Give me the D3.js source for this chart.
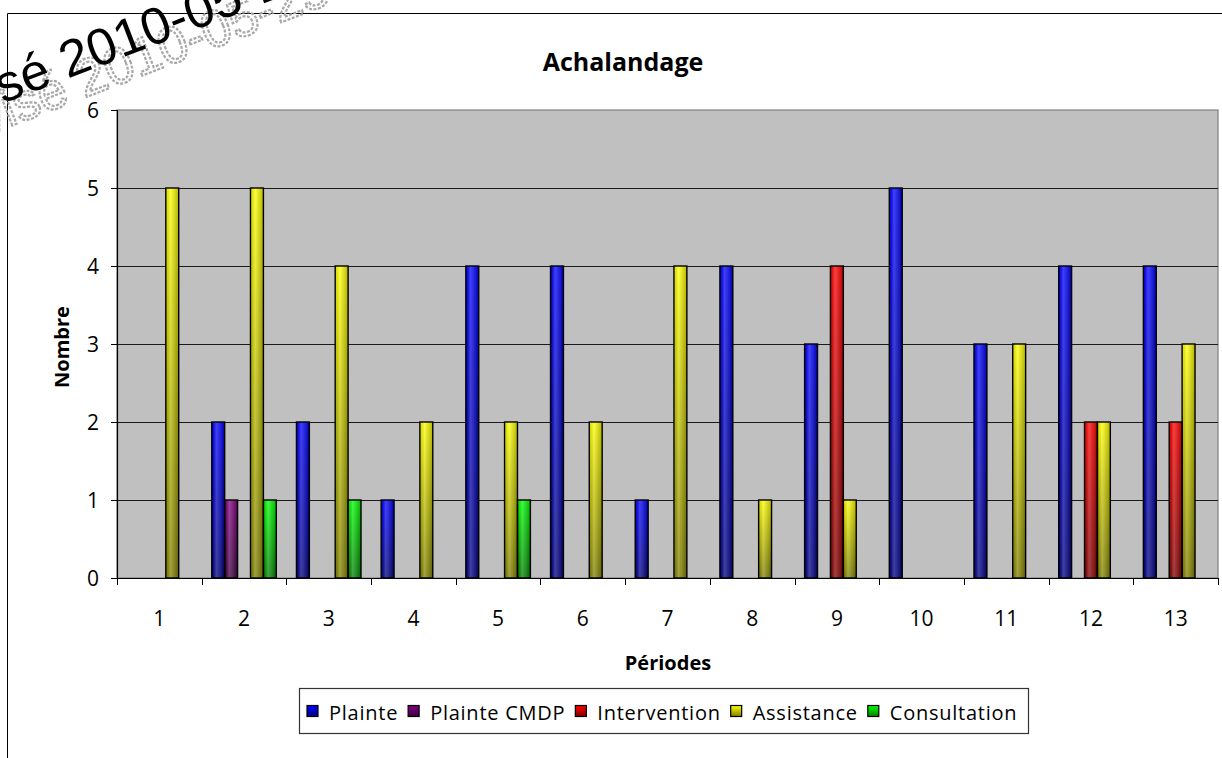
<!DOCTYPE html>
<html><head><meta charset="utf-8">
<script src="https://cdn.jsdelivr.net/npm/d3@7"></script>
<style>body{margin:0;background:#fff}svg{display:block}</style>
</head><body>
<svg id="c" width="1222" height="758"></svg>
<script>
// ---- data ----
const categories = ["1","2","3","4","5","6","7","8","9","10","11","12","13"];
const seriesNames = ["Plainte","Plainte CMDP","Intervention","Assistance","Consultation"];
const plainte      = [0,2,2,1,4,4,1,4,3,5,3,4,4];
const plainteCMDP  = [0,1,0,0,0,0,0,0,0,0,0,0,0];
const intervention = [0,0,0,0,0,0,0,0,4,0,0,2,2];
const assistance   = [5,5,4,2,2,2,4,1,1,0,3,2,3];
const consultation = [0,1,1,0,1,0,0,0,0,0,0,0,0];
const yTicks = [0,1,2,3,4,5,6];
const topColors    = ["#0000ff","#800080","#ff0000","#ffff00","#00ff00"];
const bottomColors = ["#000080","#400040","#800000","#808000","#008000"];
const seriesValues = [plainte, plainteCMDP, intervention, assistance, consultation];

const FONT = "'Open Sans', sans-serif";
const WMFONT = "'Liberation Sans', Arial, sans-serif";
const svg = d3.select("#c");
const defs = svg.append("defs");

seriesNames.forEach((s,i)=>{
  const g = defs.append("linearGradient").attr("id","g"+i)
    .attr("x1",0).attr("y1",0).attr("x2",0).attr("y2",1);
  g.append("stop").attr("offset","0%").attr("stop-color",topColors[i]);
  g.append("stop").attr("offset","100%").attr("stop-color",bottomColors[i]);
});
const hl = defs.append("linearGradient").attr("id","hl").attr("x1",0).attr("y1",0).attr("x2",1).attr("y2",0);
hl.append("stop").attr("offset","0%").attr("stop-color","#000").attr("stop-opacity",0.12);
hl.append("stop").attr("offset","35%").attr("stop-color","#fff").attr("stop-opacity",0.25);
hl.append("stop").attr("offset","100%").attr("stop-color","#000").attr("stop-opacity",0.28);

// ---- outer chart border ----
svg.append("line").attr("x1",7.5).attr("x2",1222).attr("y1",13.5).attr("y2",13.5).attr("stroke","#000");
svg.append("line").attr("x1",7.5).attr("x2",7.5).attr("y1",13.5).attr("y2",758).attr("stroke","#000");

// ---- scales ----
const pL=117, pR=1218, pT=110, pB=578;
const x0 = d3.scaleBand().domain(categories).range([pL,pR]);
const x1 = d3.scaleBand().domain(seriesNames).range([0,x0.bandwidth()]).paddingInner(0).paddingOuter(0.78);
const y = d3.scaleLinear().domain([0,6]).range([pB,pT]);

// plot area
svg.append("rect").attr("x",pL).attr("y",pT).attr("width",pR-pL).attr("height",pB-pT)
  .attr("fill","#c0c0c0").attr("stroke","#808080").attr("stroke-width",1.2);
// gridlines
svg.append("g").selectAll("line").data(yTicks.filter(v=>v>0&&v<6)).join("line")
  .attr("x1",pL).attr("x2",pR).attr("y1",d=>Math.round(y(d))+0.5).attr("y2",d=>Math.round(y(d))+0.5)
  .attr("stroke","#1a1a1a").attr("stroke-width",1);

// bars
const rows = [];
categories.forEach((c,ci)=>seriesNames.forEach((s,si)=>{
  if (seriesValues[si][ci]>0) rows.push({c, s, si, v: seriesValues[si][ci]});
}));
const bars = svg.append("g");
bars.selectAll("rect.b").data(rows).join("rect").attr("class","b")
  .attr("x",d=>x0(d.c)+x1(d.s)).attr("y",d=>y(d.v))
  .attr("width",x1.bandwidth()).attr("height",d=>y(0)-y(d.v))
  .attr("fill",d=>"url(#g"+d.si+")");
bars.selectAll("rect.h").data(rows).join("rect").attr("class","h")
  .attr("x",d=>x0(d.c)+x1(d.s)).attr("y",d=>y(d.v))
  .attr("width",x1.bandwidth()).attr("height",d=>y(0)-y(d.v))
  .attr("fill","url(#hl)").attr("stroke","#000").attr("stroke-width",1.4);

// axes
const yAxis = svg.append("g").attr("transform",`translate(${pL},0)`)
  .call(d3.axisLeft(y).tickValues(yTicks).tickSize(6).tickPadding(12).tickFormat(d3.format("d")));
const xAxis = svg.append("g").attr("transform",`translate(0,${pB})`)
  .call(d3.axisBottom(x0).tickSize(0).tickPadding(33));
[yAxis,xAxis].forEach(a=>{
  a.select(".domain").attr("stroke","#000").attr("stroke-width",1.2);
  a.selectAll("text").attr("font-family",FONT).attr("font-size",21).attr("fill","#000");
  a.selectAll("line").attr("stroke","#000");
});
yAxis.selectAll(".tick text").attr("dy","0.35em");
// x boundary ticks
const bounds = categories.map(c=>x0(c)).concat([pR]);
svg.append("g").selectAll("line").data(bounds).join("line")
  .attr("x1",d=>Math.round(d)+0.5).attr("x2",d=>Math.round(d)+0.5)
  .attr("y1",pB).attr("y2",pB+7).attr("stroke","#000");
xAxis.select(".domain").attr("d",`M${pL},0.5H${pR}`);

// titles
svg.append("text").attr("x",623).attr("y",71).attr("text-anchor","middle")
  .attr("font-family",FONT).attr("font-weight","bold").attr("font-size",25).text("Achalandage");
svg.append("text").attr("transform","translate(69,347) rotate(-90)").attr("text-anchor","middle")
  .attr("font-family",FONT).attr("font-weight","bold").attr("font-size",20).text("Nombre");
svg.append("text").attr("x",668).attr("y",670).attr("text-anchor","middle")
  .attr("font-family",FONT).attr("font-weight","bold").attr("font-size",20).text("Périodes");

// legend
const lg = svg.append("g");
lg.append("rect").attr("x",299.5).attr("y",688.5).attr("width",729).attr("height",45)
  .attr("fill","#fff").attr("stroke","#333").attr("stroke-width",1.2);
let lx = 307;
seriesNames.forEach((s,i)=>{
  lg.append("rect").attr("x",lx).attr("y",705.5).attr("width",11).attr("height",11)
    .attr("fill","url(#g"+i+")").attr("stroke","#000").attr("stroke-width",1.2);
  const t = lg.append("text").attr("x",lx+22).attr("y",720).attr("font-family",FONT)
    .attr("font-size",20).attr("letter-spacing",0.75).text(s);
  lx = lx + 22 + t.node().getComputedTextLength() + 10;
});

// watermark: rotated -21deg, date part starts near (54,84)
const wmText = "Révisé 2010-05-25";
const WMSIZE = 52;
const probe = svg.append("text").attr("font-family",WMFONT).attr("font-size",WMSIZE).text("Révisé ");
const pre = probe.node().getComputedTextLength();
probe.remove();
const wm = svg.append("g");
wm.append("text").attr("transform","translate(71,103) rotate(-21)").attr("x",-pre)
  .attr("font-family",WMFONT).attr("font-size",WMSIZE)
  .attr("fill","none").attr("stroke","#a8a8a8").attr("stroke-width",2.2).attr("stroke-dasharray","3,1.5")
  .text(wmText);
wm.append("text").attr("transform","translate(54,84) rotate(-21)").attr("x",-pre)
  .attr("font-family",WMFONT).attr("font-size",WMSIZE)
  .attr("fill","#000").text(wmText);
</script>
</body></html>
